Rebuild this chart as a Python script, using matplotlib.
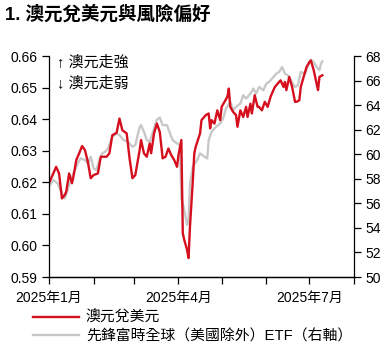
import matplotlib
matplotlib.use("Agg")
import matplotlib.pyplot as plt
import matplotlib.dates as mdates
import pandas as pd

plt.rcParams["font.family"] = ["Liberation Sans", "Noto Sans CJK TC", "DejaVu Sans"]
plt.rcParams["axes.unicode_minus"] = False

# 澳元兌美元 (days since 2025-01-01, rate)
aud_days = [0, 5, 7, 9, 11, 12, 14, 16, 17, 19, 21, 23, 25, 27, 29, 31, 34, 36, 38, 40,
            42, 44, 47, 49, 51, 54, 56, 58, 60, 63, 64, 66, 68, 70, 71, 73, 75, 77, 79, 81,
            83, 85, 87, 89, 90, 92, 93, 94, 96, 97, 98, 100, 101, 102, 105, 106, 109, 111, 112, 113,
            115, 117, 119, 120, 122, 124, 125, 126, 128, 130, 131, 133, 135, 137, 138, 140, 141, 143, 145, 146,
            148, 150, 152, 154, 156, 157, 159, 161, 163, 164, 165, 167, 169, 171, 172, 174, 175, 177, 179, 181,
            182, 184, 186, 187, 188, 190]
aud_usd = [0.6197, 0.6249, 0.6228, 0.6149, 0.6160, 0.6171, 0.6228, 0.6197, 0.6218, 0.6271,
           0.6292, 0.6315, 0.6302, 0.6265, 0.6213, 0.6223, 0.6228, 0.6281, 0.6281, 0.6281,
           0.6292, 0.6349, 0.6357, 0.6402, 0.6365, 0.6355, 0.6276, 0.6213, 0.6223, 0.6302,
           0.6334, 0.6292, 0.6281, 0.6323, 0.6292, 0.6355, 0.6386, 0.6360, 0.6276, 0.6281,
           0.6307, 0.6286, 0.6271, 0.6249, 0.6286, 0.6334, 0.6039, 0.6018, 0.5986, 0.5960,
           0.6060, 0.6207, 0.6292, 0.6313, 0.6355, 0.6397, 0.6413, 0.6418, 0.6371, 0.6397,
           0.6386, 0.6428, 0.6397, 0.6439, 0.6455, 0.6471, 0.6497, 0.6439, 0.6423, 0.6413,
           0.6376, 0.6428, 0.6407, 0.6439, 0.6407, 0.6449, 0.6418, 0.6476, 0.6439, 0.6439,
           0.6428, 0.6455, 0.6439, 0.6471, 0.6492, 0.6502, 0.6513, 0.6523, 0.6502, 0.6518,
           0.6492, 0.6534, 0.6502, 0.6455, 0.6455, 0.6460, 0.6502, 0.6534, 0.6565, 0.6581,
           0.6586, 0.6555, 0.6513, 0.6492, 0.6534, 0.6539]

# 先鋒富時全球（美國除外）ETF
etf_days = [0, 3, 6, 9, 11, 13, 15, 18, 20, 22, 25, 27, 29, 31, 33, 35, 37, 39, 41, 44,
            47, 49, 52, 55, 58, 60, 63, 64, 66, 68, 70, 73, 75, 77, 79, 82, 85, 86, 89, 91,
            92, 94, 96, 97, 98, 100, 103, 105, 108, 110, 111, 113, 116, 119, 121, 123, 126, 128, 130, 133,
            135, 137, 140, 142, 144, 146, 149, 151, 153, 156, 158, 160, 162, 164, 166, 168, 171, 173, 175, 178,
            180, 182, 184, 186, 188, 189, 190]
etf_price = [57.36, 57.90, 57.63, 56.82, 56.41, 57.09, 57.90, 58.71, 59.26, 59.66,
             59.53, 59.26, 59.80, 58.85, 58.71, 59.53, 60.07, 60.20, 60.47, 61.42,
             61.69, 61.56, 61.15, 61.02, 60.61, 60.75, 62.23, 62.37, 61.83, 61.15,
             61.02, 62.10, 62.83, 62.99, 62.37, 62.37, 61.42, 61.15, 60.88, 60.75,
             56.41, 55.47, 54.25, 54.52, 57.63, 58.99, 59.53, 60.07, 59.80, 59.66,
             61.15, 61.83, 62.23, 62.50, 62.91, 63.72, 64.26, 63.59, 63.86, 64.13,
             64.81, 64.54, 64.94, 65.35, 64.94, 65.48, 65.21, 65.75, 65.89, 66.29,
             66.57, 66.70, 67.11, 66.57, 66.43, 66.02, 65.48, 65.62, 66.70, 66.57,
             67.24, 67.70, 67.51, 67.11, 66.84, 67.38, 67.57]

start = pd.Timestamp("2025-01-01")
aud_dates = start + pd.to_timedelta(aud_days, unit="D")
etf_dates = start + pd.to_timedelta(etf_days, unit="D")

red = "#d50f1e"
grey = "#c8c8c8"

fig = plt.figure(figsize=(3.9, 3.46), dpi=100)
ax = fig.add_axes([0.1256, 0.1994, 0.7821, 0.6386])
ax2 = ax.twinx()

l1, = ax.plot(aud_dates, aud_usd, color=red, lw=1.7, label="澳元兌美元")
l2, = ax2.plot(etf_dates, etf_price, color=grey, lw=1.7, label="先鋒富時全球（美國除外）ETF（右軸）")
# red line above the grey one
ax.set_zorder(ax2.get_zorder() + 1)
ax.patch.set_visible(False)

ax.set_ylim(0.59, 0.66)
ax.set_yticks([0.59, 0.60, 0.61, 0.62, 0.63, 0.64, 0.65, 0.66])
ax.set_yticklabels(["0.59", "0.60", "0.61", "0.62", "0.63", "0.64", "0.65", "0.66"])
ax2.set_ylim(50, 68)
ax2.set_yticks(range(50, 69, 2))

ax.set_xlim(pd.Timestamp("2025-01-01"), pd.Timestamp("2025-08-01"))
ax.xaxis.set_major_locator(mdates.MonthLocator())
month_labels = {1: "2025年1月", 4: "2025年4月", 7: "2025年7月"}
ax.xaxis.set_major_formatter(
    plt.FuncFormatter(lambda v, p: month_labels.get(mdates.num2date(v).month, "")))

for a in (ax, ax2):
    a.spines["top"].set_visible(False)
    for s in a.spines.values():
        s.set_linewidth(0.9)
    a.tick_params(labelsize=10, length=5, width=0.9, color="black", pad=3)
ax.tick_params(axis="x", pad=5)
ax2.spines["left"].set_visible(False)
ax.spines["right"].set_visible(False)

ax.text(0.026, 0.970, "↑ 澳元走強", transform=ax.transAxes, fontsize=10.8,
        va="center", ha="left")
ax.text(0.026, 0.874, "↓ 澳元走弱", transform=ax.transAxes, fontsize=10.8,
        va="center", ha="left")

fig.text(0.012, 0.958, "1. 澳元兌美元與風險偏好", fontsize=13.3, fontweight="bold",
         va="center", ha="left")

fig.legend(handles=[l1, l2], loc="upper left", bbox_to_anchor=(0.085, 0.102),
           frameon=False, fontsize=10.7, handlelength=3.1, handletextpad=0.45,
           labelspacing=0.3, borderpad=0, borderaxespad=0)

fig.savefig("out.png", dpi=100)
